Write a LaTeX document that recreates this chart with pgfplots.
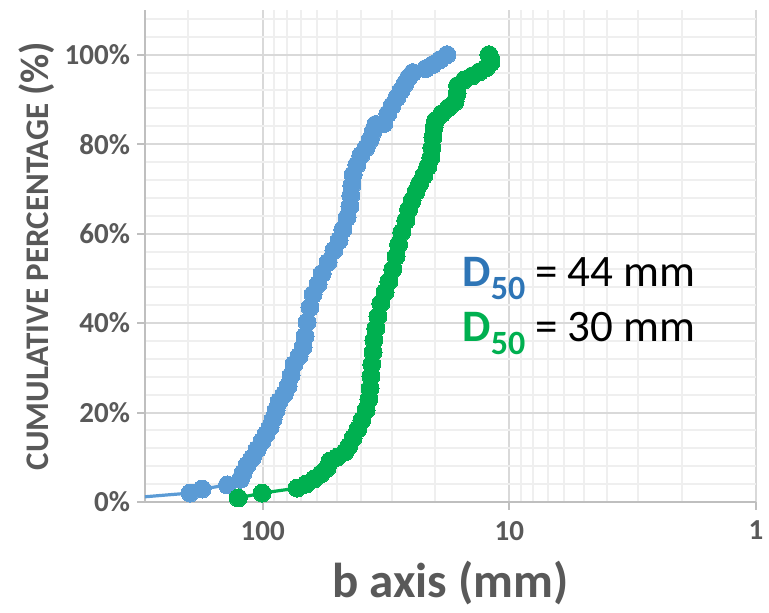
\documentclass[border=0pt]{standalone}
\usepackage{fontspec}
\setmainfont{Carlito}
\usepackage{pgfplots}
\pgfplotsset{compat=1.18}
\definecolor{txtgray}{HTML}{595959}
\definecolor{axgray}{HTML}{BFBFBF}
\definecolor{majgrid}{HTML}{D9D9D9}
\definecolor{mingrid}{HTML}{EFEFEF}
\definecolor{serblue}{HTML}{5B9BD5}
\definecolor{sergreen}{HTML}{00B050}
\definecolor{lblblue}{HTML}{2E75B6}

\pgfplotstableread{
b pct
400 0.6
197 2.0
176 2.9
139 3.8
123 5.1
120 6.5
115.5 8.3
110.3 9.8
105.2 11.8
100.5 13.6
96.8 15.2
93.3 16.7
90.7 18.5
88.2 20.5
85.8 22.5
81.8 24.1
78.9 25.9
76.7 28.3
74.6 30.8
71.2 32.6
68.6 34.6
67.3 37.1
66.1 40.2
64.3 43.5
62.5 46.4
59.6 48.7
57.4 51.1
54.3 53.6
51.4 56.3
49.0 58.5
47.3 60.9
45.5 63.6
44.3 66.1
43.9 68.5
43.5 70.8
43.0 73.2
41.5 75.4
40.0 77.5
38.1 79.2
36.7 81.0
35.7 82.8
34.8 84.4
32.3 84.6
31.1 86.8
29.9 88.6
28.6 90.4
27.5 92.0
26.5 93.5
25.6 94.9
24.6 96.0
21.8 96.9
20.4 97.8
19.1 98.9
17.9 100
}\siteA

\pgfplotstableread{
b pct
125.6 0.9
100.5 2.0
72.5 3.1
66.7 4.0
61.9 5.1
58.0 6.3
54.8 7.6
53.3 9.2
49.9 10.0
46.4 11.2
44.7 12.5
43.0 14.3
41.1 16.3
39.6 18.3
38.1 20.5
37.1 23.0
36.7 25.4
36.4 28.1
36.1 30.8
35.7 33.5
35.4 36.2
34.8 38.8
34.1 41.5
33.2 44.4
31.9 46.9
30.8 49.3
29.7 52.0
28.8 54.9
28.1 57.6
27.3 60.3
26.3 62.9
25.6 65.4
24.8 67.4
23.9 69.4
23.1 71.2
22.2 73.0
21.4 75.0
20.8 77.0
20.6 79.2
20.4 81.5
20.2 83.7
19.9 85.3
18.8 86.8
17.6 88.2
16.6 89.5
16.3 91.3
16.2 93.1
15.2 94.4
14.1 95.3
13.2 96.2
12.4 97.1
11.9 98.2
11.9 99.1
12.1 100
}\siteB

\begin{document}
\begin{tikzpicture}
\useasboundingbox (-72.5pt,-55.5pt) rectangle (312pt,251pt);
\begin{axis}[
  at={(0,0)}, anchor=south west,
  scale only axis,
  width=305.5pt, height=246pt,
  xmode=log, x dir=reverse,
  xmin=1, xmax=300,
  ymin=0, ymax=110,
  xtick={1,10,100}, xticklabels={1,10,100},
  minor xtick={2,3,4,5,6,7,8,9,20,30,40,50,60,70,80,90,200},
  ytick={0,20,40,60,80,100},
  yticklabels={0\%,20\%,40\%,60\%,80\%,100\%},
  minor ytick={4,8,12,16,24,28,32,36,44,48,52,56,64,68,72,76,84,88,92,96,104,108},
  grid=both,
  major grid style={draw=majgrid, line width=1pt},
  minor grid style={draw=mingrid, line width=1pt},
  axis x line*=bottom, axis y line*=left,
  axis line style={draw=axgray, line width=1pt, -},
  tick align=outside,
  major tick length=4pt, minor tick length=0pt,
  tick style={draw=axgray, line width=1pt},
  ticklabel style={font=\fontsize{14.5}{17}\selectfont\bfseries, text=txtgray},
  xticklabel style={yshift=-2pt},
  yticklabel style={xshift=0pt},
  xlabel={b axis (mm)},
  xlabel style={font=\fontsize{24.5}{28}\selectfont\bfseries, text=txtgray,
    at={(axis description cs:0.5,0)}, anchor=base, yshift=-48pt},
  ylabel={CUMULATIVE PERCENTAGE {\fontsize{20}{23}\selectfont(\%)}},
  ylabel style={font=\fontsize{16.5}{19}\selectfont\bfseries, text=txtgray,
    at={(axis description cs:0,0.5)}, anchor=center, yshift=54pt},
]
\addplot[serblue, line width=1.6pt, mark=*, mark size=4.5pt,
  mark options={fill=serblue, draw=serblue, line width=0pt}] table[x=b, y=pct] {\siteA};
\addplot[sergreen, line width=1.6pt, mark=*, mark size=4.5pt,
  mark options={fill=sergreen, draw=sergreen, line width=0pt}] table[x=b, y=pct] {\siteB};
\end{axis}
\node[anchor=base west, inner sep=0pt, font=\fontsize{22.5}{26}\selectfont] at (158.5pt,107.5pt)
  {\textcolor{lblblue}{\bfseries D\raisebox{-6.3pt}{\fontsize{17}{20}\selectfont 50}} = 44 mm};
\node[anchor=base west, inner sep=0pt, font=\fontsize{22.5}{26}\selectfont] at (158.5pt,80pt)
  {\textcolor{sergreen}{\bfseries D\raisebox{-6.3pt}{\fontsize{17}{20}\selectfont 50}} = 30 mm};
\end{tikzpicture}
\end{document}
